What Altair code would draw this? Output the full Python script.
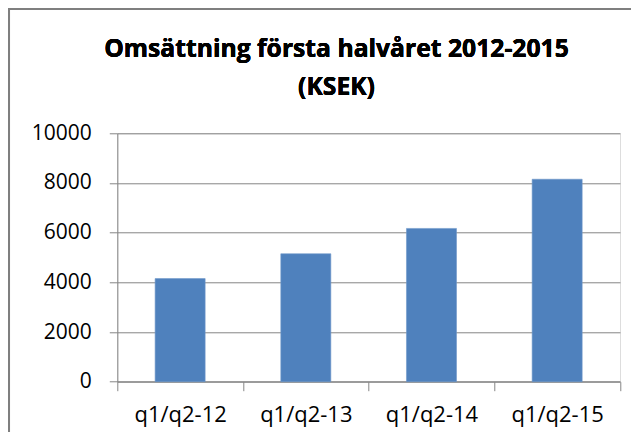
import altair as alt
import pandas as pd

categories = ["q1/q2-12", "q1/q2-13", "q1/q2-14", "q1/q2-15"]
values = [4150, 5150, 6170, 8150]
y_ticks = [0, 2000, 4000, 6000, 8000, 10000]
title_lines = ["Omsättning första halvåret 2012-2015", "(KSEK)"]

df = pd.DataFrame({"period": categories, "value": values})

W = 502.7
H = 248.4
FONT = "Open Sans"
GRAY = "#868686"

bars = alt.Chart(df).mark_bar(
    color="#4F81BD", stroke="#6E97CA", strokeWidth=0.6,
    width=alt.RelativeBandSize(0.398),
).encode(
    x=alt.X(
        "period:N",
        sort=categories,
        scale=alt.Scale(paddingInner=0, paddingOuter=0),
        axis=alt.Axis(
            title=None,
            labelAngle=0,
            labelFont=FONT,
            labelFontSize=22,
            labelColor="#000000",
            labelBaseline="alphabetic",
            labelPadding=31,
            tickBand="extent",
            tickSize=9,
            tickColor=GRAY,
            domainColor=GRAY,
            grid=False,
        ),
    ),
    y=alt.Y(
        "value:Q",
        scale=alt.Scale(domain=[0, 10000], nice=False),
        axis=alt.Axis(
            title=None,
            values=y_ticks,
            format="d",
            labelFont=FONT,
            labelFontSize=21,
            labelColor="#000000",
            labelPadding=18,
            tickSize=8,
            tickColor=GRAY,
            domainColor=GRAY,
            gridColor=GRAY,
            gridWidth=1,
        ),
    ),
)

title1 = alt.Chart(df).mark_text(
    text=title_lines[0], font=FONT, fontSize=24.7, fontWeight="bold",
    color="#000000", align="center", baseline="alphabetic"
).encode(x=alt.value(219.2), y=alt.value(-76.6))
title2 = alt.Chart(df).mark_text(
    text=title_lines[1], font=FONT, fontSize=24.7, fontWeight="bold",
    color="#000000", align="center", baseline="alphabetic"
).encode(x=alt.value(219.2), y=alt.value(-38.3))

frame_left = alt.Chart(df).mark_rule(color="#7F7F7F", strokeWidth=3).encode(
    x=alt.value(-108.8), y=alt.value(-126), y2=alt.value(H + 80)
)
frame_top = alt.Chart(df).mark_rule(color="#7F7F7F", strokeWidth=3).encode(
    x=alt.value(-110), x2=alt.value(W + 30), y=alt.value(-124.8)
)

chart = (
    alt.layer(bars, title1, title2, frame_left, frame_top)
    .properties(
        width=W,
        height=H,
        autosize=alt.AutoSizeParams(type="none"),
        padding={"left": 109.3, "top": 125.3, "right": 11, "bottom": 50},
    )
    .configure_view(stroke=None)
    .configure(background="white")
)

chart.save("out.html", embed_options={"renderer": "svg", "actions": False})
